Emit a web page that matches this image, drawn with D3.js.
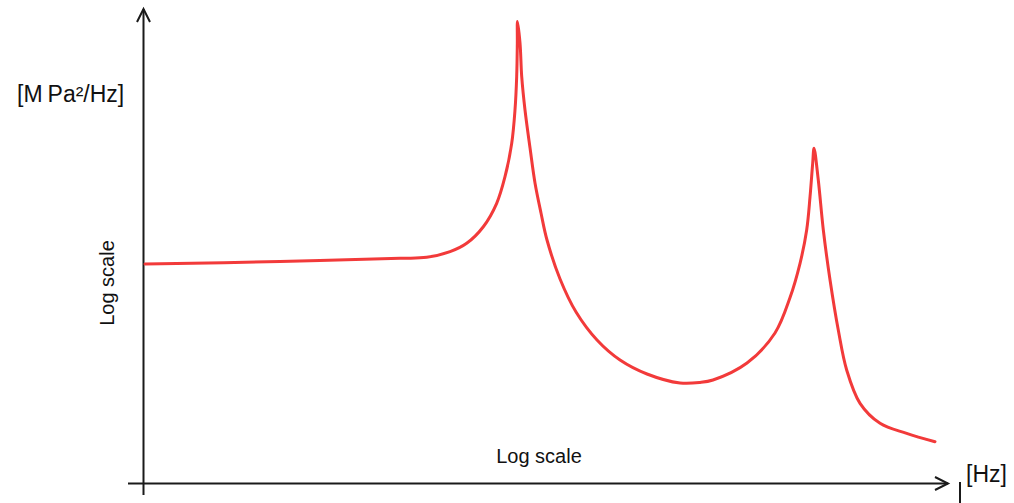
<!DOCTYPE html>
<html>
<head>
<meta charset="utf-8">
<script src="https://cdn.jsdelivr.net/npm/d3@7"></script>
<style>
  body { margin: 0; background: #fff; }
  text { font-family: "Liberation Sans", Arial, sans-serif; fill: #111; }
</style>
</head>
<body>
<div id="graph"></div>
<script>
// frequency position along the axis (relative log units, 0-100)
var logFreq = [0, 16.88, 31.88, 35.21, 38.13, 40.21, 42.29, 43.96, 45.0, 45.84,
               46.25, 46.46, 46.54, 46.56,
               46.88, 47.09, 47.5, 48.13, 48.75, 49.5, 50.25, 51.88, 53.88,
               56.5, 59.38, 62.75, 66.88, 69.38,
               71.0, 75.25, 78.75, 80.63, 81.88, 82.71, 83.13, 83.46, 83.63,
               84.16, 84.79, 85.63, 86.66, 87.71, 89.38, 91.88, 95.21, 98.75];
// PSD level (relative log units, 0-100)
var logPsd = [45.83, 46.35, 47.02, 47.23, 48.4, 50.15, 53.6, 58.48, 64.02, 70.98,
              77.92, 84.85, 91.81, 96.35,
              91.81, 84.85, 77.92, 70.0, 62.71, 56.46, 50.83, 42.71, 35.83,
              30.0, 25.83, 22.92, 21.04, 21.15,
              21.67, 25.21, 31.46, 38.85, 45.98, 52.92, 59.85, 66.81, 69.94,
              63.33, 52.92, 42.5, 32.08, 23.75, 16.81, 12.65, 10.56, 8.81];

var yUnit = ["[M", "Pa²/Hz]"];
var xUnit = "[Hz]";
var scaleLabel = "Log scale";

document.addEventListener("DOMContentLoaded", function() {
    var width = 1014;
    var height = 503;

    var vis = d3.select("#graph").append("svg")
        .attr("width", width)
        .attr("height", height);

    var x = d3.scaleLinear().domain([0, 100]).range([145, 945]);
    var y = d3.scaleLinear().domain([0, 100]).range([484, 4]);

    drawAxes(vis);
    drawCurve(vis, x, y);
    drawLabels(vis);
});

function drawAxes(vis) {
    var g = vis.append("g")
        .attr("stroke", "#1a1a1a")
        .attr("stroke-width", 2)
        .attr("fill", "none");

    // vertical axis with arrow
    g.append("line").attr("x1", 143.5).attr("y1", 495).attr("x2", 143.5).attr("y2", 9);
    g.append("polyline").attr("points", "137,22 143.5,9 150,22");

    // horizontal axis with arrow
    g.append("line").attr("x1", 128).attr("y1", 483.5).attr("x2", 948).attr("y2", 483.5);
    g.append("polyline").attr("points", "935,477 948,483.5 935,490");

    // small mark after the arrow
    g.append("line").attr("x1", 960).attr("y1", 482).attr("x2", 960).attr("y2", 503);
}

function drawCurve(vis, x, y) {
    var points = d3.zip(logFreq, logPsd);

    var line = d3.line()
        .x(function(d) { return x(d[0]); })
        .y(function(d) { return y(d[1]); })
        .curve(d3.curveCatmullRom.alpha(0.5));

    vis.append("path")
        .datum(points)
        .attr("d", line)
        .attr("fill", "none")
        .attr("stroke", "#f23a3a")
        .attr("stroke-width", 3)
        .attr("stroke-linejoin", "round")
        .attr("stroke-linecap", "round");
}

function drawLabels(vis) {
    var t = vis.append("text")
        .attr("x", 17).attr("y", 102)
        .attr("font-size", 23);
    t.append("tspan").text(yUnit[0]);
    t.append("tspan").attr("dx", 5).text(yUnit[1]);

    vis.append("text")
        .attr("x", 966).attr("y", 482)
        .attr("font-size", 23)
        .text(xUnit);

    vis.append("text")
        .attr("x", 539).attr("y", 463)
        .attr("text-anchor", "middle")
        .attr("font-size", 20)
        .text(scaleLabel);

    vis.append("text")
        .attr("transform", "translate(114,283) rotate(-90)")
        .attr("text-anchor", "middle")
        .attr("font-size", 20)
        .text(scaleLabel);
}
</script>
</body>
</html>
